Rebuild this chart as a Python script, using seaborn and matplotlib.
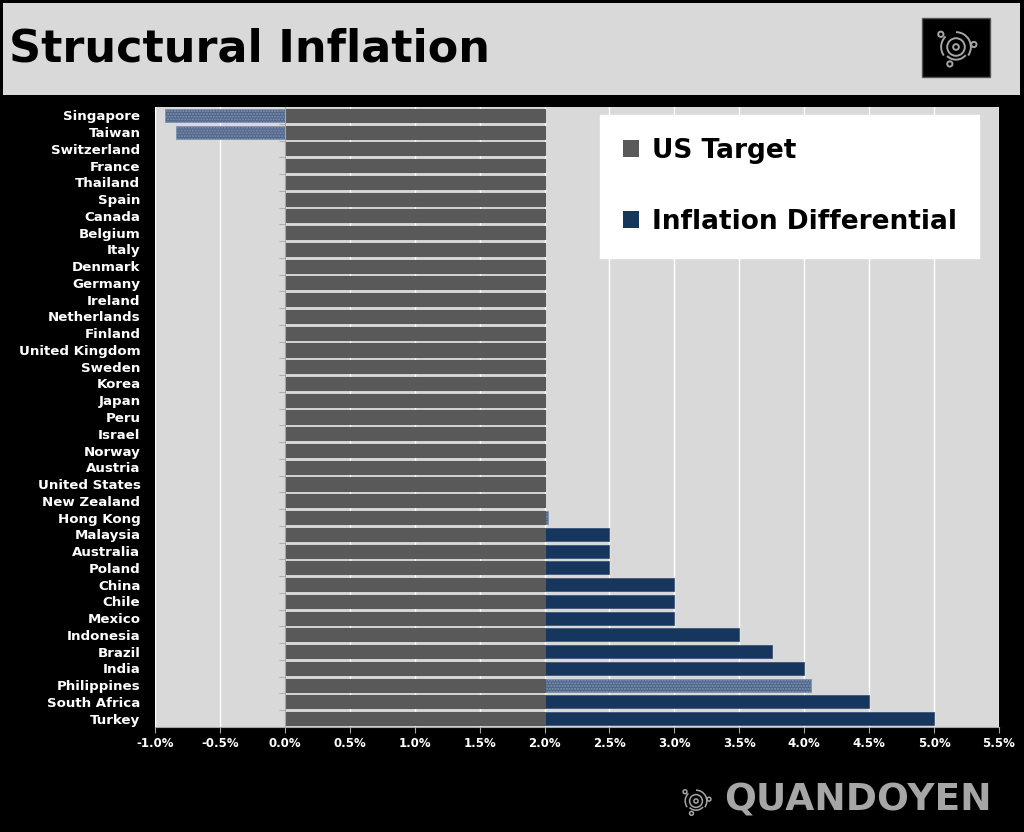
import numpy as np
import pandas as pd
import seaborn as sns
from matplotlib import pyplot as plt
from matplotlib.patches import Rectangle, Patch, Circle, Arc
from matplotlib.ticker import FixedLocator

countries = ['Singapore', 'Taiwan', 'Switzerland', 'France', 'Thailand', 'Spain', 'Canada',
             'Belgium', 'Italy', 'Denmark', 'Germany', 'Ireland', 'Netherlands', 'Finland',
             'United Kingdom', 'Sweden', 'Korea', 'Japan', 'Peru', 'Israel', 'Norway', 'Austria',
             'United States', 'New Zealand', 'Hong Kong', 'Malaysia', 'Australia', 'Poland',
             'China', 'Chile', 'Mexico', 'Indonesia', 'Brazil', 'India', 'Philippines',
             'South Africa', 'Turkey']
us_target = [2.0] * len(countries)
differential = [-0.92, -0.84] + [0.0] * 22 + [0.03, 0.5, 0.5, 0.5, 1.0, 1.0, 1.0,
                                              1.5, 1.75, 2.0, 2.05, 2.5, 3.0]
patterned = ['Singapore', 'Taiwan', 'Hong Kong', 'Philippines']
xticks = [-1.0, -0.5, 0.0, 0.5, 1.0, 1.5, 2.0, 2.5, 3.0, 3.5, 4.0, 4.5, 5.0, 5.5]

data = pd.DataFrame({'country': countries, 'target': us_target, 'diff': differential})
# blue bar is drawn to the total, the grey target bar covers 0..2 on top of it
data['blue'] = np.where(data['diff'] < 0, data['diff'], data['target'] + data['diff'])

GREY = '#595959'
NAVY = '#17365d'
PATTERN = '#4f6589'
PANEL = '#d9d9d9'

W, H = 1024, 832
fig = plt.figure(figsize=(W / 100, H / 100), dpi=100, facecolor='black')

def px(x, y):
    return x / W, 1 - y / H

# title banner
fig.patches.append(Rectangle(px(3, 95), 1017 / W, 92 / H, transform=fig.transFigure,
                             facecolor=PANEL, edgecolor='none', zorder=-5))
fig.patches.append(Rectangle(px(922, 77), 68 / W, 59 / H, transform=fig.transFigure,
                             facecolor='black', edgecolor='#555555', lw=1, zorder=-4))
fig.text(*px(9, 49), 'Structural Inflation', fontsize=32, fontweight='bold',
         family='DejaVu Sans', color='black', va='center', ha='left')

def draw_logo(cx, cy, size, col, lw):
    l, b = px(cx - size / 2, cy + size / 2)
    lax = fig.add_axes([l, b, size / W, size / H])
    lax.set_xlim(-1, 1)
    lax.set_ylim(-1, 1)
    lax.axis('off')
    lax.add_patch(Circle((0, 0), 0.13, fill=False, edgecolor=col, lw=lw))
    lax.add_patch(Circle((0, 0), 0.4, fill=False, edgecolor=col, lw=lw))
    lax.add_patch(Arc((0, 0), 1.35, 1.35, theta1=-35, theta2=90, edgecolor=col, lw=lw))
    lax.add_patch(Arc((0, 0), 1.35, 1.35, theta1=135, theta2=215, edgecolor=col, lw=lw))
    lax.add_patch(Arc((0, 0), 1.15, 1.15, theta1=225, theta2=320, edgecolor=col, lw=lw))
    for ang, r in [(8, 0.82), (140, 0.9), (250, 0.82)]:
        a = np.radians(ang)
        lax.add_patch(Circle((r * np.cos(a), r * np.sin(a)), 0.12,
                             fill=False, edgecolor=col, lw=lw))

draw_logo(956, 47, 44, '#a6a6a6', 1.4)
draw_logo(696, 801, 32, '#a6a6a6', 1.1)
fig.text(*px(724, 801), 'QUANDOYEN', fontsize=27, fontweight='bold',
         family='DejaVu Sans', color='#a6a6a6', va='center', ha='left')

# chart
l, b = px(155, 727)
ax = fig.add_axes([l, b, 844 / W, 620 / H])
ax.set_facecolor(PANEL)

sns.barplot(data=data, x='blue', y='country', orient='h', color=NAVY, saturation=1,
            width=0.78, edgecolor='#3d5577', linewidth=0.6, ax=ax)
n_blue = len(ax.patches)
sns.barplot(data=data, x='target', y='country', orient='h', color=GREY, saturation=1,
            width=0.78, edgecolor=GREY, linewidth=0.8, ax=ax)

plt.rcParams['hatch.linewidth'] = 0.4
for patch, name in zip(ax.patches[:n_blue], countries):
    if name in patterned:
        patch.set_facecolor(PATTERN)
        patch.set_hatch('......')
        patch.set_edgecolor('#7f93b0')

ax.set_xlim(-1.0, 5.5)
ax.set_ylim(len(countries) - 0.5, -0.5)
ax.set_xlabel('')
ax.set_ylabel('')
ax.set_xticks(xticks)
ax.set_xticklabels(['{:.1f}%'.format(v) for v in xticks])
ax.grid(axis='x', color='white', lw=1)
ax.grid(axis='y', visible=False)
ax.set_axisbelow(True)

for side in ['top', 'right']:
    ax.spines[side].set_visible(False)
ax.spines['left'].set_position(('data', 0))
ax.spines['left'].set_color('#a6a6a6')
ax.spines['bottom'].set_color('#a6a6a6')
ax.spines['left'].set_zorder(5)

ax.tick_params(axis='x', colors='#a6a6a6', length=4, labelcolor='white', labelsize=8.5)
ax.tick_params(axis='y', length=0, pad=104, labelcolor='white', labelsize=9.6)
ax.yaxis.set_minor_locator(FixedLocator(np.arange(0.5, len(countries) - 0.5, 1)))
ax.tick_params(axis='y', which='minor', length=4, color='#a6a6a6')
for lab in ax.get_xticklabels() + ax.get_yticklabels():
    lab.set_fontweight('bold')

handles = [Patch(facecolor=GREY, label='US Target'),
           Patch(facecolor=NAVY, label='Inflation Differential')]
leg = ax.legend(handles=handles, loc='upper left', bbox_to_anchor=((600 - 155) / 844, 1 - 8 / 620),
                fontsize=19, frameon=True, fancybox=False, framealpha=1, edgecolor='white',
                facecolor='white', handlelength=0.6, handleheight=0.6, handletextpad=0.5,
                labelspacing=1.72, borderpad=0.86, borderaxespad=0)
for t in leg.get_texts():
    t.set_fontweight('bold')

fig.savefig('out.png', dpi=100, facecolor='black')
